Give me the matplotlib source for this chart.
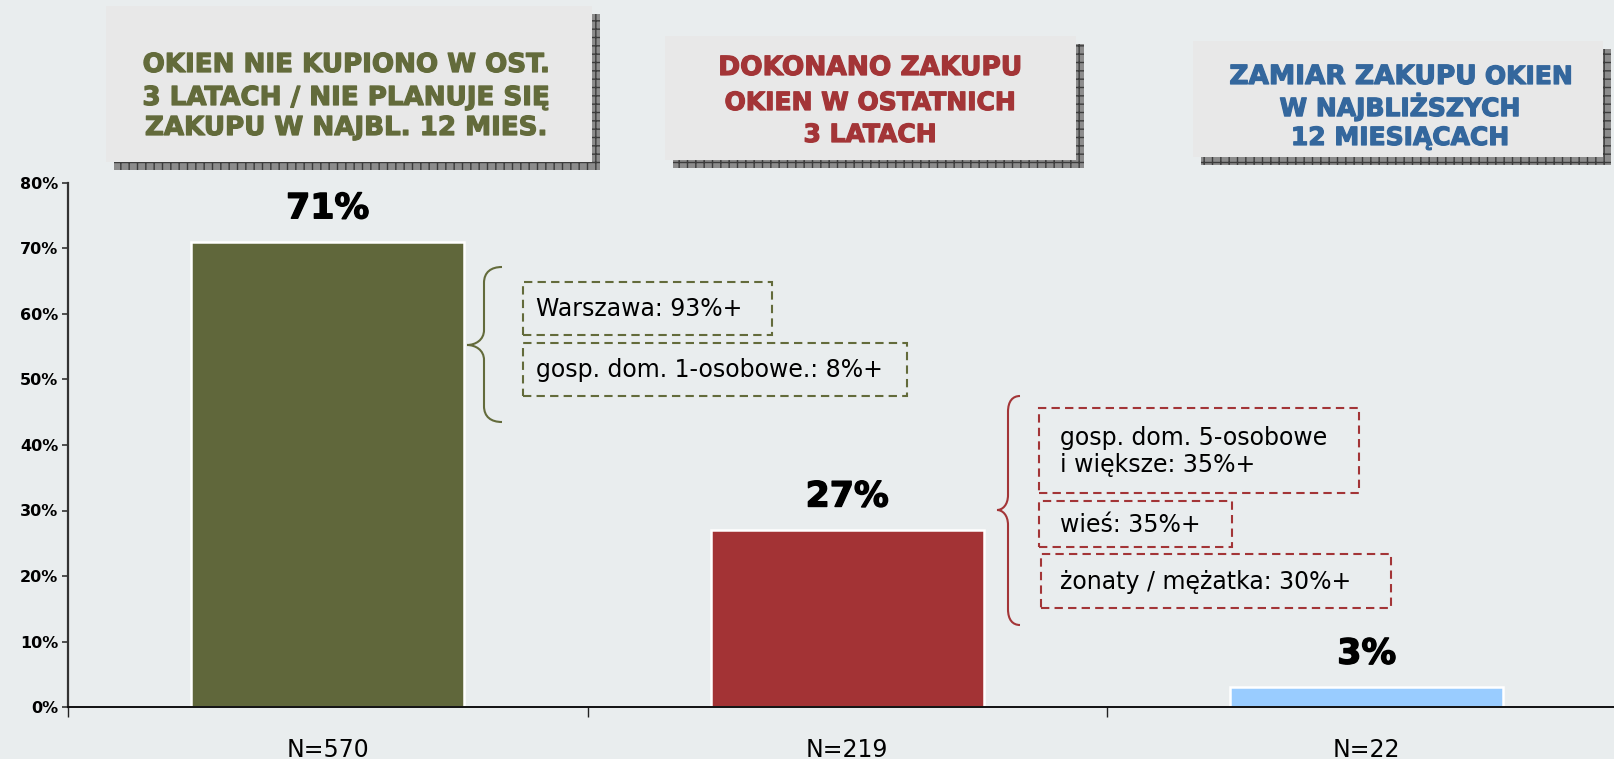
import matplotlib
matplotlib.use("Agg")
import matplotlib.pyplot as plt
from matplotlib.patches import Rectangle, PathPatch
from matplotlib.path import Path
from matplotlib.transforms import Affine2D
from matplotlib.ticker import FixedLocator, FuncFormatter
import matplotlib.patheffects as pe

# ---------------- data ----------------
categories = ["N=570", "N=219", "N=22"]
values = [71, 27, 3]
value_labels = ["71%", "27%", "3%"]
bar_colors = ["#60673b", "#a33335", "#99ccff"]
yticks = [0, 10, 20, 30, 40, 50, 60, 70, 80]

header1 = ["OKIEN NIE KUPIONO W OST.", "3 LATACH / NIE PLANUJE SIĘ", "ZAKUPU W NAJBL. 12 MIES."]
header2 = ["DOKONANO ZAKUPU", "OKIEN W OSTATNICH", "3 LATACH"]
header3_big = "ZAMIAR ZAKUPU "
header3_small = "OKIEN"
header3 = ["W NAJBLIŻSZYCH", "12 MIESIĄCACH"]

green_notes = ["Warszawa: 93%+", "gosp. dom. 1-osobowe.: 8%+"]
red_notes = ["gosp. dom. 5-osobowe\ni większe: 35%+", "wieś: 35%+", "żonaty / mężatka: 30%+"]

OLIVE = "#636b3b"
RED = "#a33537"
BLUE = "#34679d"
BG = "#e9edee"
BOXFILL = "#e8e8e8"

W, H = 1615, 759
fig = plt.figure(figsize=(W / 100, H / 100), dpi=100, facecolor=BG)
# pixel transform (origin top-left)
PX = Affine2D().scale(1 / W, -1 / H).translate(0, 1) + fig.transFigure

def heavy(color, lw=0.9):
    return [pe.withStroke(linewidth=lw, foreground=color)]

# ---------------- axes ----------------
ax_l, ax_r, ax_top, ax_bot = 68, 1615, 183, 707
ax = fig.add_axes([ax_l / W, 1 - ax_bot / H, (ax_r - ax_l) / W, (ax_bot - ax_top) / H])
ax.set_facecolor(BG)
cat_w = 519.5
ax.set_xlim(-0.5, -0.5 + (ax_r - ax_l) / cat_w)
ax.set_ylim(0, 80)

x = list(range(len(categories)))
bars = ax.bar(x, values, width=0.525, color=bar_colors, edgecolor="white", linewidth=1.8, zorder=3)
for xi, v, lab in zip(x, values, value_labels):
    ax.annotate(lab, (xi, v), xytext=(0, 12), textcoords="offset points",
                ha="center", va="bottom", fontsize=25, fontweight="bold", color="black",
                path_effects=heavy("black", 1.0))

for s in ["top", "right"]:
    ax.spines[s].set_visible(False)
ax.spines["left"].set_color("#333333")
ax.spines["left"].set_linewidth(1.6)
ax.spines["bottom"].set_color("#111111")
ax.spines["bottom"].set_linewidth(1.4)
ax.spines["bottom"].set_zorder(4)

ax.yaxis.set_major_locator(FixedLocator(yticks))
ax.yaxis.set_major_formatter(FuncFormatter(lambda v, p: f"{int(v)}%"))
ax.tick_params(axis="y", direction="out", length=4, width=1.2, color="#333333",
               labelsize=11.5, pad=3)
for t in ax.get_yticklabels():
    t.set_fontweight("bold")

ax.xaxis.set_major_locator(FixedLocator([-0.5, 0.5, 1.5, 2.5]))
ax.xaxis.set_major_formatter(FuncFormatter(lambda v, p: ""))
ax.xaxis.set_minor_locator(FixedLocator(x))
ax.set_xticklabels(categories, minor=True)
ax.tick_params(axis="x", which="major", direction="out", length=7, width=1.0, color="#222222")
ax.tick_params(axis="x", which="minor", length=0, labelsize=17, pad=22)

# ---------------- header boxes ----------------
plt.rcParams["hatch.linewidth"] = 1.0

def header_box(x0, y0, x1, y1, sh=8):
    for (a, b, c, d) in [(x1, y0 + sh, x1 + sh, y1 + sh), (x0 + sh, y1, x1 + sh, y1 + sh)]:
        fig.patches.append(Rectangle((a, d), c - a, b - d, transform=PX, facecolor="#8c8c8c",
                                     edgecolor="#3c3c3c", hatch="++", linewidth=0))
    fig.patches.append(Rectangle((x0, y1), x1 - x0, y0 - y1, transform=PX,
                                 facecolor=BOXFILL, edgecolor="none"))

header_box(106, 6, 592, 162)
header_box(665, 36, 1076, 160)
header_box(1193, 41, 1603, 157)

for txt, yy in zip(header1, [65, 98, 128]):
    fig.text(346, yy, txt, transform=PX, ha="center", va="center",
             fontsize=18.8, fontweight="bold", color=OLIVE, path_effects=heavy(OLIVE))
for txt, yy, fs in zip(header2, [68, 103, 135], [19, 18, 18]):
    fig.text(870, yy, txt, transform=PX, ha="center", va="center",
             fontsize=fs, fontweight="bold", color=RED, path_effects=heavy(RED))

# mixed-size first line of header 3
r = fig.canvas.get_renderer()
t1 = fig.text(0, 84, header3_big, transform=PX, ha="left", va="baseline",
              fontsize=19, fontweight="bold", color=BLUE, path_effects=heavy(BLUE))
t2 = fig.text(0, 84, header3_small, transform=PX, ha="left", va="baseline",
              fontsize=18, fontweight="bold", color=BLUE, path_effects=heavy(BLUE))
w1 = t1.get_window_extent(r).width
w2 = t2.get_window_extent(r).width
x_start = 1401 - (w1 + w2) / 2
t1.set_position((x_start, 84))
t2.set_position((x_start + w1, 84))
for txt, yy in zip(header3, [107, 138]):
    fig.text(1400, yy, txt, transform=PX, ha="center", va="center",
             fontsize=18, fontweight="bold", color=BLUE, path_effects=heavy(BLUE))

# ---------------- braces and notes ----------------
def brace(xe, xv, xt, yt, ym, yb, color):
    verts = [(xe, yt),
             (xe - 0.6 * (xe - xv), yt), (xv, yt + 5), (xv, yt + 16),
             (xv, ym - 15),
             (xv, ym - 5), (xv - 0.5 * (xv - xt), ym), (xt, ym),
             (xv - 0.5 * (xv - xt), ym), (xv, ym + 5), (xv, ym + 15),
             (xv, yb - 16),
             (xv, yb - 5), (xe - 0.6 * (xe - xv), yb), (xe, yb)]
    codes = [Path.MOVETO, Path.CURVE4, Path.CURVE4, Path.CURVE4, Path.LINETO,
             Path.CURVE4, Path.CURVE4, Path.CURVE4, Path.CURVE4, Path.CURVE4, Path.CURVE4,
             Path.LINETO, Path.CURVE4, Path.CURVE4, Path.CURVE4]
    fig.patches.append(PathPatch(Path(verts, codes), transform=PX, facecolor="none",
                                 edgecolor=color, linewidth=1.5))

def dashed_box(x0, y0, x1, y1, color):
    fig.patches.append(Rectangle((x0, y1), x1 - x0, y0 - y1, transform=PX, fill=False,
                                 edgecolor=color, linewidth=1.5, linestyle=(0, (4, 2.5))))

brace(502, 484, 467, 267, 345, 422, OLIVE)
green_boxes = [(523, 282, 772, 335), (523, 343, 907, 396)]
for (x0, y0, x1, y1), note in zip(green_boxes, green_notes):
    dashed_box(x0, y0, x1, y1, OLIVE)
    fig.text(536, (y0 + y1) / 2 + 1, note, transform=PX, ha="left", va="center",
             fontsize=17, color="black")

brace(1020, 1008, 997, 396, 510, 625, RED)
red_boxes = [(1039, 408, 1359, 493), (1039, 501, 1232, 547), (1041, 554, 1391, 608)]
for (x0, y0, x1, y1), note in zip(red_boxes, red_notes):
    dashed_box(x0, y0, x1, y1, RED)
    fig.text(1060, (y0 + y1) / 2 + 1, note, transform=PX, ha="left", va="center",
             fontsize=17, color="black", linespacing=1.15)

fig.savefig("out.png", dpi=100, facecolor=BG)
